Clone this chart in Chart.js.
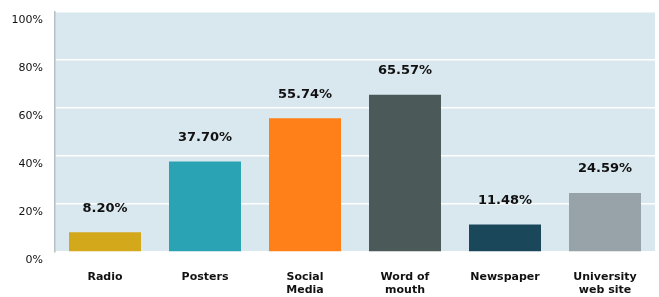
<!DOCTYPE html>
<html>
<head>
<meta charset="utf-8">
<script src="https://cdn.jsdelivr.net/npm/chart.js@4/dist/chart.umd.min.js"></script>
<style>
  html, body { margin: 0; padding: 0; background: #fff; }
  #wrap { width: 659px; height: 297px; }
</style>
</head>
<body>
<div id="wrap"><canvas id="c" width="659" height="297"></canvas></div>
<script>
const categories = [['Radio'], ['Posters'], ['Social', 'Media'], ['Word of', 'mouth'], ['Newspaper'], ['University', 'web site']];
const values = [8.20, 37.70, 55.74, 65.57, 11.48, 24.59];
const barColors = ['#d3a81b', '#2aa3b4', '#ff8019', '#4b5a59', '#1b475a', '#98a3a9'];
const yTicks = [0, 20, 40, 60, 80, 100];

const FONT = '"DejaVu Sans", Arial, sans-serif';

// light blue plot background
const plotBg = {
  id: 'plotBg',
  beforeDraw(chart) {
    const { ctx, chartArea: a } = chart;
    ctx.save();
    ctx.fillStyle = '#d9e8ef';
    ctx.fillRect(a.left, a.top, a.right - a.left, a.bottom - a.top);
    ctx.restore();
  }
};

// value labels above the bars
const valueLabels = {
  id: 'valueLabels',
  afterDatasetsDraw(chart) {
    const { ctx } = chart;
    const meta = chart.getDatasetMeta(0);
    ctx.save();
    ctx.font = 'bold 13px ' + FONT;
    ctx.fillStyle = '#111';
    ctx.textAlign = 'center';
    ctx.textBaseline = 'middle';
    meta.data.forEach((bar, i) => {
      ctx.fillText(values[i].toFixed(2) + '%', bar.x, bar.y - 24);
    });
    ctx.restore();
  }
};

new Chart(document.getElementById('c'), {
  type: 'bar',
  data: {
    labels: categories,
    datasets: [{
      data: values,
      backgroundColor: barColors,
      categoryPercentage: 1,
      barPercentage: 0.72,
    }],
  },
  options: {
    responsive: false,
    animation: false,
    layout: { padding: { top: 12, right: 4, left: 0, bottom: 0 } },
    plugins: {
      legend: { display: false },
      tooltip: { enabled: false },
    },
    scales: {
      x: {
        grid: { display: false },
        border: { display: false },
        ticks: {
          color: '#111',
          padding: 10,
          maxRotation: 0,
          autoSkip: false,
          font: { family: FONT, size: 11, weight: 'bold', lineHeight: 1.25 },
        },
        afterFit(scale) { scale.height = 45; },
      },
      y: {
        min: 0,
        max: 100,
        afterBuildTicks(scale) { scale.ticks = yTicks.map(v => ({ value: v })); },
        grid: { color: '#ffffff', lineWidth: 1.5, drawTicks: false },
        border: { display: true, color: '#b6bfc3', width: 1.5 },
        ticks: {
          color: '#111',
          padding: 12,
          font: { family: FONT, size: 11, lineHeight: 1.4 },
          // empty first line pushes the label a little below its grid line, as in the original
          callback: v => ['', v + '%'],
        },
        afterFit(scale) {
          scale.width = 55;
          scale.paddingTop = 0;
          scale.paddingBottom = 0;
        },
      },
    },
  },
  plugins: [plotBg, valueLabels],
});
</script>
</body>
</html>
